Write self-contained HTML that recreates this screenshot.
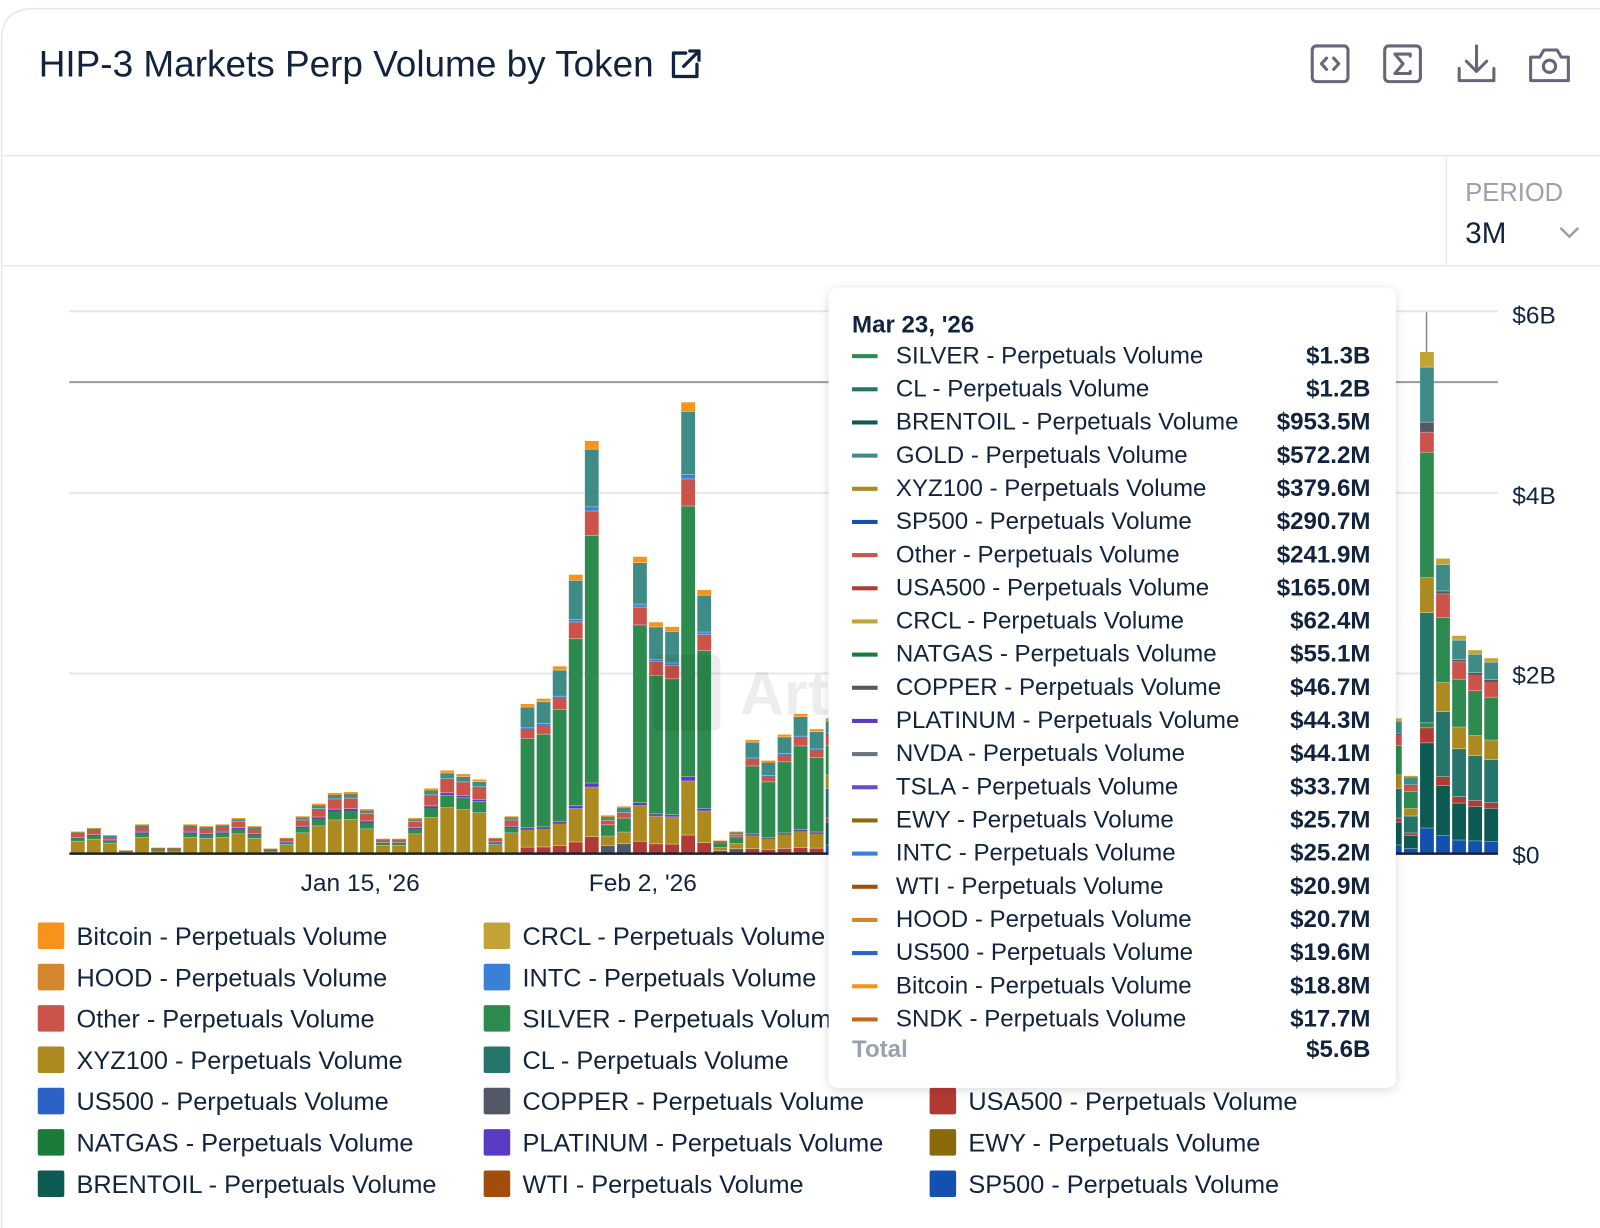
<!DOCTYPE html>
<html><head><meta charset="utf-8">
<style>
html,body{margin:0;padding:0;background:#fff;}
svg{display:block;font-family:"Liberation Sans",sans-serif;}
</style></head>
<body>
<svg id="s" width="1600" height="1228" viewBox="0 0 1568 1203.4" preserveAspectRatio="none" xmlns="http://www.w3.org/2000/svg">
<rect x="0" y="0" width="1600" height="1228" fill="#fff"/>
<path d="M1.5 1228 V40 Q1.5 8.5 33 8.5 H1600" fill="none" stroke="#e6e8eb" stroke-width="1.5"/>
<text x="38" y="75" font-size="36.2" fill="#12233d">HIP-3 Markets Perp Volume by Token</text>
<g fill="none" stroke="#12233d" stroke-width="3.2" stroke-linecap="round" stroke-linejoin="round">
<path d="M672 52 H660 V75 H683 V63"/><path d="M670 65 L685 50 M676 50 H685 V59"/>
</g>
<g fill="none" stroke="#636778" stroke-width="3" stroke-linecap="round" stroke-linejoin="round">
<rect x="1286" y="45" width="35" height="35" rx="4"/><path d="M1300 57 L1295 62.5 L1300 68 M1307 57 L1312 62.5 L1307 68"/>
<rect x="1357" y="45" width="35" height="35" rx="4"/><path d="M1382 55 V53 H1367 L1375 62.5 L1367 72 H1382 V70"/>
<path d="M1447 45 V70 M1437 60 L1447 70 L1457 60 M1430 67 V79 H1464 V67"/>
<path d="M1500 56 H1509 L1513 49 H1526 L1530 56 H1537 V79 H1500 Z"/><circle cx="1518.5" cy="65" r="6"/>
</g>
<line x1="2" y1="152.5" x2="1600" y2="152.5" stroke="#e8eaed" stroke-width="1.5"/>
<line x1="2" y1="260.5" x2="1600" y2="260.5" stroke="#e8eaed" stroke-width="1.5"/>
<line x1="1417.5" y1="153" x2="1417.5" y2="260" stroke="#e8eaed" stroke-width="1.5"/>
<text x="1436" y="197" font-size="25" fill="#9aa1ad">PERIOD</text>
<text x="1436" y="238" font-size="29" fill="#12233d">3M</text>
<path d="M1530 224 L1538 232 L1546 224" fill="none" stroke="#9aa1ad" stroke-width="2.5" stroke-linecap="round"/>
<g stroke="#e6e7ea" stroke-width="2">
<line x1="68" y1="305" x2="1468" y2="305"/><line x1="68" y1="483" x2="1468" y2="483"/><line x1="68" y1="660" x2="1468" y2="660"/>
</g>
<line x1="68" y1="374.5" x2="1468" y2="374.5" stroke="#9a9a9a" stroke-width="2"/>
<line x1="1398" y1="306" x2="1398" y2="346" stroke="#888" stroke-width="1.5"/>
<g font-size="24" fill="#12233d">
<text x="1482" y="317">$6B</text><text x="1482" y="494">$4B</text><text x="1482" y="670">$2B</text><text x="1482" y="846">$0</text>
</g>
<g id="bars"></g>
<rect x="640" y="642" width="66" height="74" rx="6" fill="#000" fill-opacity="0.07"/>
<text x="725" y="700" font-size="60" font-weight="bold" fill="#000" fill-opacity="0.07">Art</text>
<line x1="68" y1="836.5" x2="1468" y2="836.5" stroke="#1a2233" stroke-width="2.5"/>
<g font-size="24" fill="#12233d" text-anchor="middle">
<text x="353" y="873">Jan 15, '26</text><text x="630" y="873">Feb 2, '26</text>
</g>
<g id="legend" font-size="24.8" fill="#12233d"></g>
<defs><filter id="sh" x="-10%" y="-10%" width="120%" height="120%"><feDropShadow dx="0" dy="2" stdDeviation="5" flood-color="#000" flood-opacity="0.15"/></filter></defs>
<rect x="812" y="282" width="556" height="784" rx="9" fill="#fff" filter="url(#sh)"/>
<g id="tip" font-size="23.6" fill="#12233d"></g>
</svg>
<script>
var NS='http://www.w3.org/2000/svg';
function el(p,tag,a,txt){var e=document.createElementNS(NS,tag);for(var k in a)e.setAttribute(k,a[k]);if(txt)e.textContent=txt;p.appendChild(e);return e;}
var C={SILVER:'#2e8b4f',GOLD:'#3f8c86',Other:'#cc5349',XYZ100:'#ad8a1f',CL:'#26756b',BRENTOIL:'#0d5a52',SP500:'#1450b0',CRCL:'#c4a235',COPPER:'#525866',USA500:'#b23a33',Bitcoin:'#f7931a',PLATINUM:'#5a3bc4',INTC:'#3a7fd8',NATGAS:'#1a7a3a',HOOD:'#d4862c',US500:'#2a62c8',WTI:'#a24e0a',EWY:'#8a6a0a',NVDA:'#6b7380',TSLA:'#6a4ad0',SNDK:'#c0681c'};
var tot=[0.24,0.28,0.2,0.03,0.32,0.06,0.06,0.32,0.3,0.32,0.39,0.3,0.05,0.17,0.41,0.55,0.67,0.68,0.49,0.16,0.16,0.39,0.72,0.92,0.88,0.82,0.17,0.41,1.66,1.72,2.08,3.1,4.59,0.42,0.52,3.3,2.57,2.52,5.02,2.93,0.14,0.24,1.26,1.03,1.32,1.55,1.38];
while(tot.length<83)tot.push(1.5);
tot=tot.concat([0.86,5.58,3.28,2.42,2.26,2.17]);
var early=[['XYZ100',.55],['SILVER',.15],['PLATINUM',.03],['Other',.17],['GOLD',.07],['Bitcoin',.03]];
var mid=[['USA500',.04],['XYZ100',.12],['PLATINUM',.01],['SILVER',.6],['Other',.06],['INTC',.01],['GOLD',.14],['Bitcoin',.02]];
var low=[['COPPER',.2],['XYZ100',.25],['SILVER',.3],['Other',.12],['GOLD',.1],['Bitcoin',.03]];
var end=[['SP500',.06],['BRENTOIL',.17],['USA500',.03],['CL',.22],['XYZ100',.1],['SILVER',.22],['Other',.08],['COPPER',.01],['GOLD',.09],['CRCL',.02]];
var peak=[['SP500',.05],['BRENTOIL',.17],['USA500',.03],['SILVER',.01],['CL',.22],['XYZ100',.07],['SILVER',.25],['Other',.04],['COPPER',.02],['GOLD',.11],['CRCL',.03]];
var B=document.getElementById('bars'),base=836,k=88;
for(var i=0;i<tot.length;i++){
 var x=69.5+15.74*i,w=13.5,t=tot[i];
 var tp=i<28?early:(i<47?(t<0.6?low:mid):(i==84?peak:end));
 var y=base;
 for(var j=0;j<tp.length;j++){var hh=tp[j][1]*t*k;y-=hh;el(B,'rect',{x:x,y:y.toFixed(2),width:w,height:(hh+0.3).toFixed(2),fill:C[tp[j][0]]});
  if(j>0&&hh>2)el(B,'rect',{x:x,y:(y+hh-0.3).toFixed(2),width:w,height:0.6,fill:'#fff','fill-opacity':0.6});}
}
var L=[[37,['Bitcoin','HOOD','Other','XYZ100','US500','NATGAS','BRENTOIL']],[474,['CRCL','INTC','SILVER','CL','COPPER','PLATINUM','WTI']],[911,['GOLD','NVDA','TSLA','SNDK','USA500','EWY','SP500']]];
var G=document.getElementById('legend');
L.forEach(function(c){c[1].forEach(function(n,r){var yy=904+40.5*r;el(G,'rect',{x:c[0],y:yy,width:26,height:26,rx:2,fill:C[n]});el(G,'text',{x:c[0]+38,y:yy+22},n+' - Perpetuals Volume');});});
var T=[['SILVER','$1.3B'],['CL','$1.2B'],['BRENTOIL','$953.5M'],['GOLD','$572.2M'],['XYZ100','$379.6M'],['SP500','$290.7M'],['Other','$241.9M'],['USA500','$165.0M'],['CRCL','$62.4M'],['NATGAS','$55.1M'],['COPPER','$46.7M'],['PLATINUM','$44.3M'],['NVDA','$44.1M'],['TSLA','$33.7M'],['EWY','$25.7M'],['INTC','$25.2M'],['WTI','$20.9M'],['HOOD','$20.7M'],['US500','$19.6M'],['Bitcoin','$18.8M'],['SNDK','$17.7M']];
var P=document.getElementById('tip');
el(P,'text',{x:835,y:326,'font-weight':'bold'},"Mar 23, '26");
T.forEach(function(r,i){var yy=356+32.5*i;el(P,'rect',{x:835,y:yy-9,width:25,height:4,fill:C[r[0]]});el(P,'text',{x:878,y:yy},r[0]+' - Perpetuals Volume');el(P,'text',{x:1343,y:yy,'text-anchor':'end','font-weight':'bold'},r[1]);});
el(P,'text',{x:835,y:1036,fill:'#9aa1ad','font-weight':'bold'},'Total');
el(P,'text',{x:1343,y:1036,'text-anchor':'end','font-weight':'bold'},'$5.6B');
</script>
</body></html>
